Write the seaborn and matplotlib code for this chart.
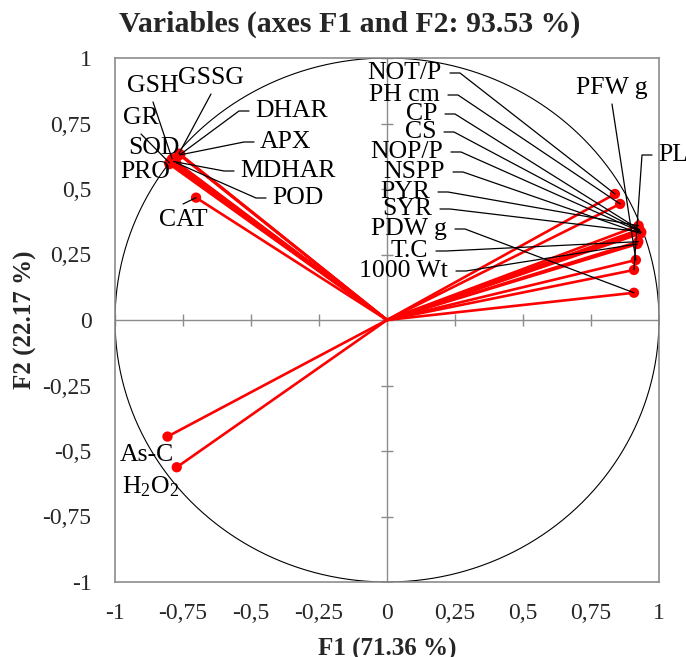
import numpy as np
import pandas as pd
import matplotlib
matplotlib.use("Agg")
import matplotlib.pyplot as plt
import seaborn as sns

# ---- data (PCA loadings on F1 / F2) ----
variables = ["GSH", "GSSG", "GR", "SOD", "PRO", "DHAR", "APX", "MDHAR", "POD", "CAT",
             "NOT/P", "PH cm", "CP", "CS", "NOP/P", "NSPP", "PYR", "SYR", "PDW g",
             "T.C", "1000 Wt", "PFW g", "PL", "As-C", "H$_2$O$_2$"]
f1 = [-0.790, -0.765, -0.800, -0.795, -0.800, -0.760, -0.762, -0.785, -0.775, -0.702,
      0.838, 0.857, 0.928, 0.930, 0.935, 0.932, 0.925, 0.930, 0.908,
      0.924, 0.920, 0.915, 0.908, -0.807, -0.773]
f2 = [0.615, 0.635, 0.600, 0.605, 0.595, 0.632, 0.630, 0.605, 0.600, 0.467,
      0.481, 0.443, 0.345, 0.340, 0.335, 0.330, 0.360, 0.337, 0.104,
      0.299, 0.290, 0.229, 0.191, -0.445, -0.562]
ticks = [-1, -0.75, -0.5, -0.25, 0, 0.25, 0.5, 0.75, 1]
tick_labels = ["-1", "-0,75", "-0,5", "-0,25", "0", "0,25", "0,5", "0,75", "1"]

df = pd.DataFrame({"var": variables, "F1": f1, "F2": f2})

# ---- layout: label anchor (pixel positions in figure), alignment, leader style ----
W, H = 686, 657
label_layout = {
    "GSH": (153, 86, "center", "below"),
    "GSSG": (211, 78, "center", "below"),
    "GR": (141, 118, "center", "below"),
    "SOD": (154, 148, "center", "none"),
    "PRO": (145, 172, "center", "none"),
    "DHAR": (255, 111, "left", "h"),
    "APX": (260, 142, "left", "h"),
    "MDHAR": (240, 171, "left", "h"),
    "POD": (272, 198, "left", "h"),
    "CAT": (183, 220, "center", "above"),
    "NOT/P": (442, 73, "right", "h"),
    "PH cm": (440, 95, "right", "h"),
    "CP": (437, 114, "right", "h"),
    "CS": (436, 132, "right", "h"),
    "NOP/P": (443, 152, "right", "h"),
    "NSPP": (445, 172, "right", "h"),
    "PYR": (430, 192, "right", "h"),
    "SYR": (432, 209, "right", "h"),
    "PDW g": (447, 229, "right", "h"),
    "T.C": (428, 251, "right", "h"),
    "1000 Wt": (448, 271, "right", "h"),
    "PFW g": (612, 88, "center", "below"),
    "PL": (658, 155, "left", "h"),
    "As-C": (147, 455, "center", "none"),
    "H$_2$O$_2$": (151, 487, "center", "none"),
}

ax_l, ax_r, ax_t, ax_b = 115, 659, 58, 582

sns.set_theme(style="white")
plt.rcParams["font.family"] = ["Liberation Serif", "DejaVu Serif"]
plt.rcParams["mathtext.fontset"] = "custom"
plt.rcParams["mathtext.rm"] = "Liberation Serif"
plt.rcParams["mathtext.it"] = "Liberation Serif"

fig = plt.figure(figsize=(W / 100, H / 100), dpi=100)
ax = fig.add_axes([ax_l / W, 1 - ax_b / H, (ax_r - ax_l) / W, (ax_b - ax_t) / H])
ax.set_xlim(-1, 1)
ax.set_ylim(-1, 1)

sx = 2 / (ax_r - ax_l)
sy = 2 / (ax_b - ax_t)


def px2data(x, y):
    return -1 + (x - ax_l) * sx, 1 - (y - ax_t) * sy


grey = "#8c8c8c"
ax.axhline(0, color=grey, lw=1, zorder=1)
ax.axvline(0, color=grey, lw=1, zorder=1)
ax.plot(ticks, [0] * len(ticks), ls="none", marker="|", ms=9, mew=1, color=grey, zorder=1)
ax.plot([0] * len(ticks), ticks, ls="none", marker="_", ms=9, mew=1, color=grey, zorder=1)

theta = np.linspace(0, 2 * np.pi, 400)
ax.plot(np.cos(theta), np.sin(theta), color="black", lw=0.8, zorder=2)

for _, r in df.iterrows():
    ax.plot([0, r.F1], [0, r.F2], color="red", lw=1.9, zorder=3, solid_capstyle="round")
sns.scatterplot(data=df, x="F1", y="F2", color="red", s=55, edgecolor="none",
                zorder=4, ax=ax, legend=False)

fs_lab = 18.5
for _, r in df.iterrows():
    lx, ly, ha, kind = label_layout[r["var"]]
    tx, ty = px2data(lx, ly)
    ax.text(tx, ty, r["var"], ha=ha, va="center", fontsize=fs_lab, color="black",
            zorder=6, clip_on=False)
    if kind == "h":
        if ha == "right":
            p0 = px2data(lx + 8, ly)
            p1 = px2data(lx + 18, ly)
        else:
            p0 = px2data(lx - 6, ly)
            p1 = px2data(lx - 16, ly)
        ax.plot([p0[0], p1[0], r.F1], [p0[1], p1[1], r.F2], color="black", lw=0.9,
                zorder=5, clip_on=False)
    elif kind == "below":
        p0 = px2data(lx, ly + 16)
        ax.plot([p0[0], r.F1], [p0[1], r.F2], color="black", lw=0.9, zorder=5)
    elif kind == "above":
        p0 = px2data(lx, ly - 16)
        ax.plot([p0[0], r.F1], [p0[1], r.F2], color="black", lw=0.9, zorder=5)

for s in ax.spines.values():
    s.set_visible(True)
    s.set_color(grey)
    s.set_linewidth(1.2)

ax.set_xticks(ticks)
ax.set_xticklabels(tick_labels)
ax.set_yticks(ticks)
ax.set_yticklabels(tick_labels)
ax.tick_params(axis="x", length=0, pad=15, labelsize=17)
ax.tick_params(axis="y", length=0, pad=17, labelsize=17)
ax.grid(False)

ax.set_xlabel("F1 (71.36 %)", fontsize=18, fontweight="bold", labelpad=10)
ax.set_ylabel("F2 (22.17 %)", fontsize=18, fontweight="bold", labelpad=4)
fig.text(350 / W, 1 - 24 / H, "Variables (axes F1 and F2: 93.53 %)", fontsize=21.5,
         fontweight="bold", ha="center", va="center")

fig.savefig("out.png", dpi=100)
